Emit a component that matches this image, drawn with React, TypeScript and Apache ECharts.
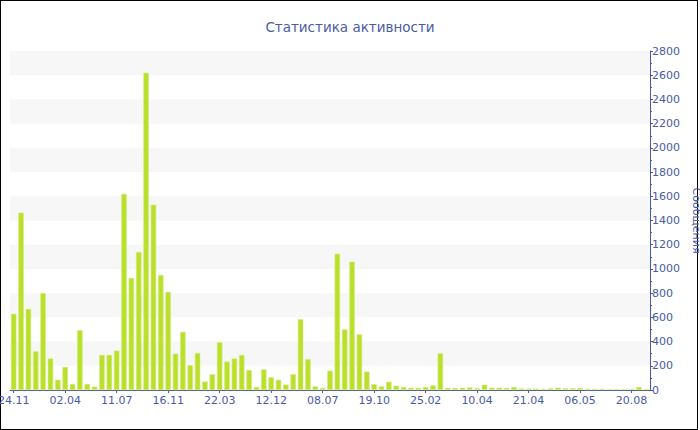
import React, { useEffect, useRef } from "react";
import * as echarts from "echarts";

const titleText = "Статистика активности";
const axisName = "Сообщения";

const tickLabels = [
  "24.11", "02.04", "11.07", "16.11", "22.03", "12.12", "08.07",
  "19.10", "25.02", "10.04", "21.04", "06.05", "20.08",
];

const messages = [
  630, 1465, 670, 320, 800, 260, 85, 190, 50, 495,
  50, 28, 290, 290, 325, 1620, 925, 1140, 2620, 1530,
  950, 810, 300, 480, 205, 305, 70, 130, 395, 235,
  260, 290, 165, 25, 170, 105, 85, 45, 130, 585,
  255, 30, 17, 160, 1125, 500, 1060, 460, 152, 48,
  30, 68, 36, 25, 18, 17, 25, 38, 303, 17,
  17, 19, 22, 14, 44, 19, 19, 17, 25, 12,
  11, 11, 8, 14, 19, 14, 14, 16, 8, 8,
  8, 6, 6, 6, 8, 25, 6,
];

const LABEL_STEP = 7;
const categories = messages.map((_, i) =>
  i % LABEL_STEP === 0 ? tickLabels[i / LABEL_STEP] ?? "" : ""
);

const BLUE = "#4a5ba5";
const FONT = "DejaVu Sans";

export default function App() {
  const ref = useRef<HTMLDivElement>(null);

  useEffect(() => {
    if (!ref.current) return;
    const chart = echarts.init(ref.current, undefined, { renderer: "svg" });
    chart.setOption({
      animation: false,
      backgroundColor: "transparent",
      title: {
        text: titleText,
        left: "center",
        top: 15,
        textStyle: { color: BLUE, fontSize: 13.5, fontWeight: "normal", fontFamily: FONT },
      },
      grid: {
        left: 10,
        right: 50,
        top: 51,
        bottom: 40,
        containLabel: false,
        outerBoundsMode: "none",
      },
      xAxis: {
        type: "category",
        data: categories,
        boundaryGap: true,
        axisLine: { show: true, lineStyle: { color: BLUE, width: 1 } },
        axisTick: { show: true, alignWithLabel: true, interval: LABEL_STEP - 1, length: 3, lineStyle: { color: BLUE } },
        axisLabel: {
          interval: LABEL_STEP - 1,
          color: BLUE,
          fontSize: 11,
          fontFamily: FONT,
          margin: 5,
        },
        splitLine: { show: false },
      },
      yAxis: {
        type: "value",
        position: "right",
        min: 0,
        max: 2800,
        interval: 200,
        name: axisName,
        nameLocation: "middle",
        nameRotate: -90,
        nameGap: 39,
        nameTextStyle: { color: BLUE, fontSize: 11, fontFamily: FONT },
        axisLine: { show: true, lineStyle: { color: BLUE, width: 1 } },
        axisTick: { show: true, length: 3, lineStyle: { color: BLUE } },
        minorTick: { show: true, splitNumber: 2, length: 2, lineStyle: { color: BLUE } },
        axisLabel: {
          color: BLUE,
          fontSize: 11,
          fontFamily: FONT,
          margin: 2,
          formatter: (v: number) => String(v),
        },
        splitLine: { show: false },
        splitArea: { show: true, areaStyle: { color: ["rgba(255,255,255,0)", "#f7f7f7"] } },
      },
      series: [
        {
          type: "bar",
          data: messages,
          barCategoryGap: "26%",
          itemStyle: { color: "#bae02c", borderColor: "#d0ec78", borderWidth: 0.6 },
        },
      ],
    });
    return () => chart.dispose();
  }, []);

  return (
    <div style={{ position: "fixed", left: 0, top: 0, width: 700, height: 430, background: "#fff" }}>
      <div
        style={{
          position: "absolute",
          left: 0,
          top: 0,
          width: 698,
          height: 430,
          border: "1px solid #000",
          boxSizing: "border-box",
        }}
      />
      <div ref={ref} style={{ position: "absolute", left: 0, top: 0, width: 700, height: 430 }} />
    </div>
  );
}
